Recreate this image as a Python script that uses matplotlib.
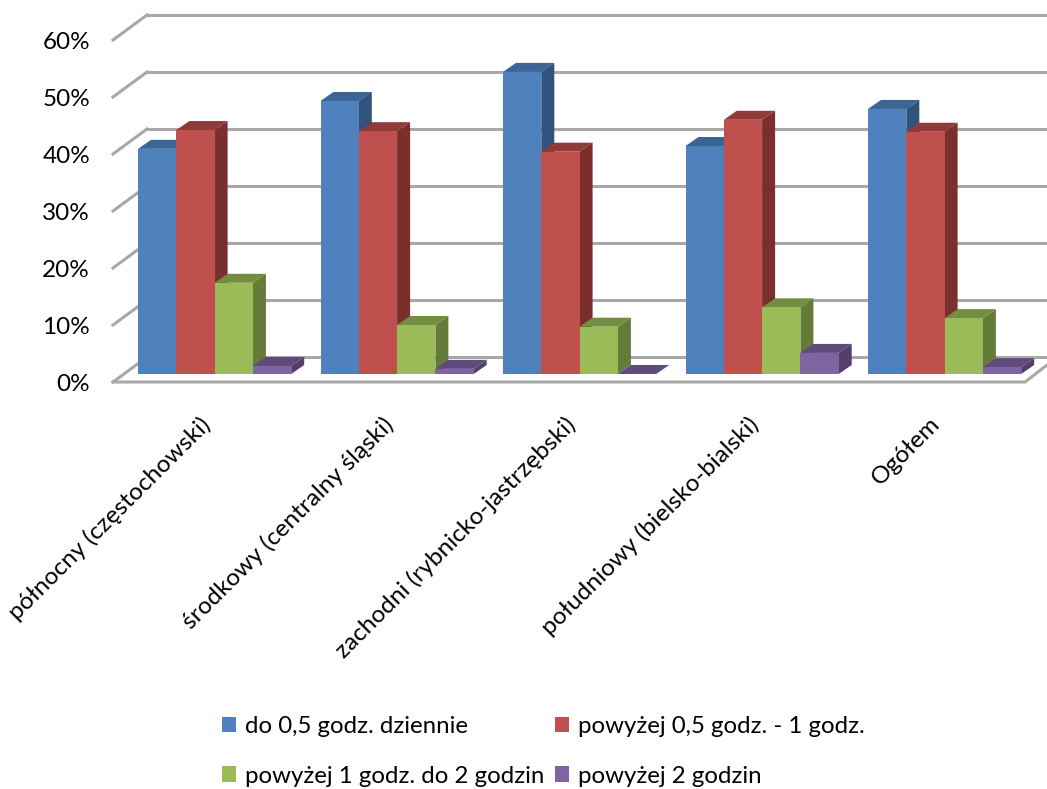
import matplotlib
matplotlib.use('Agg')
import matplotlib.pyplot as plt
from matplotlib.patches import Polygon, Patch

plt.rcParams['font.family'] = ['Lato', 'DejaVu Sans']

regions = ['północny (częstochowski)', 'środkowy (centralny śląski)',
           'zachodni (rybnicko-jastrzębski)', 'południowy (bielsko-bialski)', 'Ogółem']
series_names = ['do 0,5 godz. dziennie', 'powyżej 0,5 godz. - 1 godz.',
                'powyżej 1 godz. do 2 godzin', 'powyżej 2 godzin']
do_05 = [39.5, 47.9, 53.0, 40.0, 46.5]
od_05_do_1 = [42.8, 42.6, 39.0, 44.6, 42.5]
od_1_do_2 = [16.0, 8.6, 8.3, 11.7, 9.8]
pow_2 = [1.4, 0.9, 0.0, 3.7, 1.2]
y_ticks = [0, 10, 20, 30, 40, 50, 60]

series = [do_05, od_05_do_1, od_1_do_2, pow_2]
front = ['#4F81BD', '#C0504D', '#9BBB59', '#8064A2']
top = ['#3A6594', '#8F3B39', '#748E41', '#604A7B']
side = ['#31527C', '#7A2F2D', '#647C38', '#534069']
grid = '#A8A8A8'

# one x unit = one group, one y unit = one percent
px_x = 182.5
px_y = 5.7
bar_w = 38.3 / px_x
depth_x = 13 / px_x
depth_y = 9 / px_y

fig = plt.figure(figsize=(10.47, 7.89), dpi=100)
ax = fig.add_axes([0, 0, 1, 1])
ax.set_xlim(-138 / px_x, (1047 - 138) / px_x)
ax.set_ylim((374 - 789) / px_y, 374 / px_y)
ax.axis('off')

# walls
front_l = -25 / px_x
back_l = 9 / px_x
back_up = 17 / px_y
front_down = -8 / px_y
for t in y_ticks:
    ax.plot([back_l, ax.get_xlim()[1]], [t + back_up, t + back_up], color=grid, lw=2.2, zorder=1)
    ax.plot([front_l, back_l], [t + front_down, t + back_up], color=grid, lw=2.2, zorder=1)
    ax.text(front_l - 23 / px_x, t + front_down - 0.4, '%d%%' % t, ha='right', va='center',
            fontsize=17.5, color='black', zorder=5)
floor_r = (1025 - 138) / px_x
ax.plot([front_l, floor_r, ax.get_xlim()[1]],
        [front_down, front_down, front_down + 17 / px_y], color=grid, lw=2.2, zorder=1)
ax.add_patch(Polygon([(front_l, front_down), (floor_r, front_down), (floor_r + 22 / px_x, front_down + 17 / px_y),
                      (back_l, back_up)], closed=True, facecolor='white', edgecolor='none', zorder=0))

# bars, left to right so each one covers the side of the one before
z = 2
for g in range(len(regions)):
    for s, values in enumerate(series):
        v = values[g]
        x0 = g + s * bar_w
        x1 = x0 + bar_w
        ax.add_patch(Polygon([(x0, v), (x1, v), (x1 + depth_x, v + depth_y), (x0 + depth_x, v + depth_y)],
                             closed=True, facecolor=top[s], edgecolor='none', zorder=z))
        ax.add_patch(Polygon([(x1, 0), (x1 + depth_x, depth_y), (x1 + depth_x, v + depth_y), (x1, v)],
                             closed=True, facecolor=side[s], edgecolor='none', zorder=z))
        ax.bar(x0, v, width=bar_w, align='edge', color=front[s], linewidth=0, zorder=z + 0.5)
        z += 1

for g, name in enumerate(regions):
    ax.text(g + 0.338, -6.9, name, rotation=45, rotation_mode='anchor', ha='right', va='top',
            fontsize=17.6, color='black', zorder=z)

handles = [Patch(facecolor=c, edgecolor='none') for c in front]
# ncol fills by column, so reorder to read across the rows
order = [0, 2, 1, 3]
leg = fig.legend([handles[i] for i in order], [series_names[i] for i in order], ncol=2,
                 loc='lower left', bbox_to_anchor=(0.205, -0.006), frameon=False, fontsize=17.3,
                 handlelength=0.6, handleheight=0.6, handletextpad=0.35, columnspacing=0.45,
                 labelspacing=1.2, borderpad=0.3, borderaxespad=0)

fig.savefig('out.png', dpi=100)
